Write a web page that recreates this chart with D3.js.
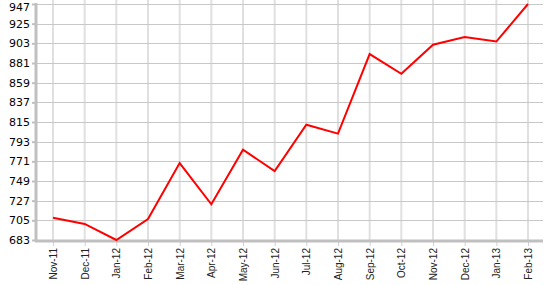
<!DOCTYPE html>
<html lang="en">
  <head>
    <meta charset="utf-8">
    <script src="https://cdn.jsdelivr.net/npm/d3@7"></script>
    <style>
      body { margin: 0; background: #fff; }
    </style>
  </head>
  <body>
    <script type="text/javascript">

      // Data
      var months = ["Nov-11", "Dec-11", "Jan-12", "Feb-12", "Mar-12", "Apr-12", "May-12", "Jun-12",
                    "Jul-12", "Aug-12", "Sep-12", "Oct-12", "Nov-12", "Dec-12", "Jan-13", "Feb-13"];
      var values = [708, 701, 683, 706.5, 769, 723, 784, 760,
                    812, 802, 891, 869, 901.5, 910, 905, 947];
      var yTicks = [683, 705, 727, 749, 771, 793, 815, 837, 859, 881, 903, 925, 947];

      var svgWidth = 553;
      var svgHeight = 285;
      // plot box ("top" is reserved on window, so use prefixed names)
      var plotLeft = 36, plotRight = 543, plotTop = 4, plotBottom = 240;

      var svg = d3.select("body")
      .append("svg")
      .attr("width", svgWidth)
      .attr("height", svgHeight);

      var x = d3.scalePoint()
      .domain(months)
      .range([53, 528]);

      var y = d3.scaleLinear()
      .domain([683, 947])
      .range([plotBottom, plotTop]);

      // vertical grid
      svg.selectAll("line.vgrid")
      .data(months)
      .enter().append("line")
      .attr("class", "vgrid")
      .attr("x1", function(d) { return x(d); })
      .attr("x2", function(d) { return x(d); })
      .attr("y1", 0)
      .attr("y2", plotBottom)
      .attr("stroke", "#e0e0e0")
      .attr("stroke-width", 2);

      // horizontal grid
      svg.selectAll("line.hgrid")
      .data(yTicks)
      .enter().append("line")
      .attr("class", "hgrid")
      .attr("x1", plotLeft)
      .attr("x2", plotRight)
      .attr("y1", function(d) { return Math.round(y(d)) + 0.5; })
      .attr("y2", function(d) { return Math.round(y(d)) + 0.5; })
      .attr("stroke", "#c8c8c8")
      .attr("stroke-width", 1);

      // y axis
      var yAxis = svg.append("g")
      .attr("transform", "translate(" + plotLeft + ",0)")
      .call(d3.axisLeft(y).tickValues(yTicks).tickSize(4).tickPadding(2));
      yAxis.select(".domain").remove();
      yAxis.selectAll(".tick line").attr("stroke", "#c0c0c0").attr("stroke-width", 2);
      yAxis.selectAll(".tick text")
      .attr("font-family", "DejaVu Sans, Verdana, sans-serif")
      .attr("font-size", 11)
      .attr("fill", "#000");
      // top label is pushed down so it stays inside the picture
      yAxis.selectAll(".tick text")
      .filter(function(d) { return d === yTicks[yTicks.length - 1]; })
      .attr("dy", "0.62em");
      svg.append("line")
      .attr("x1", plotLeft).attr("x2", plotLeft)
      .attr("y1", 3).attr("y2", plotBottom + 2)
      .attr("stroke", "#c0c0c0").attr("stroke-width", 3);

      // x axis
      var xAxis = svg.append("g")
      .attr("transform", "translate(0," + (plotBottom + 1) + ")")
      .call(d3.axisBottom(x).tickSize(5).tickPadding(3));
      xAxis.select(".domain").remove();
      xAxis.selectAll(".tick line").attr("stroke", "#d0d0d0").attr("stroke-width", 1);
      xAxis.selectAll(".tick text")
      .attr("font-family", "Liberation Sans, Arial, sans-serif")
      .attr("font-size", 10)
      .attr("fill", "#222")
      .attr("transform", "rotate(-90)")
      .attr("text-anchor", "end")
      .attr("x", -7)
      .attr("y", 0)
      .attr("dy", "0.35em");
      svg.append("line")
      .attr("x1", plotLeft - 1).attr("x2", plotRight)
      .attr("y1", plotBottom + 1).attr("y2", plotBottom + 1)
      .attr("stroke", "#c0c0c0").attr("stroke-width", 3);

      // line
      var line = d3.line()
      .x(function(d, i) { return x(months[i]); })
      .y(function(d) { return y(d); });

      svg.append("path")
      .datum(values)
      .attr("d", line)
      .attr("fill", "none")
      .attr("stroke", "#ff0000")
      .attr("stroke-width", 2);
    </script>
  </body>
</html>
